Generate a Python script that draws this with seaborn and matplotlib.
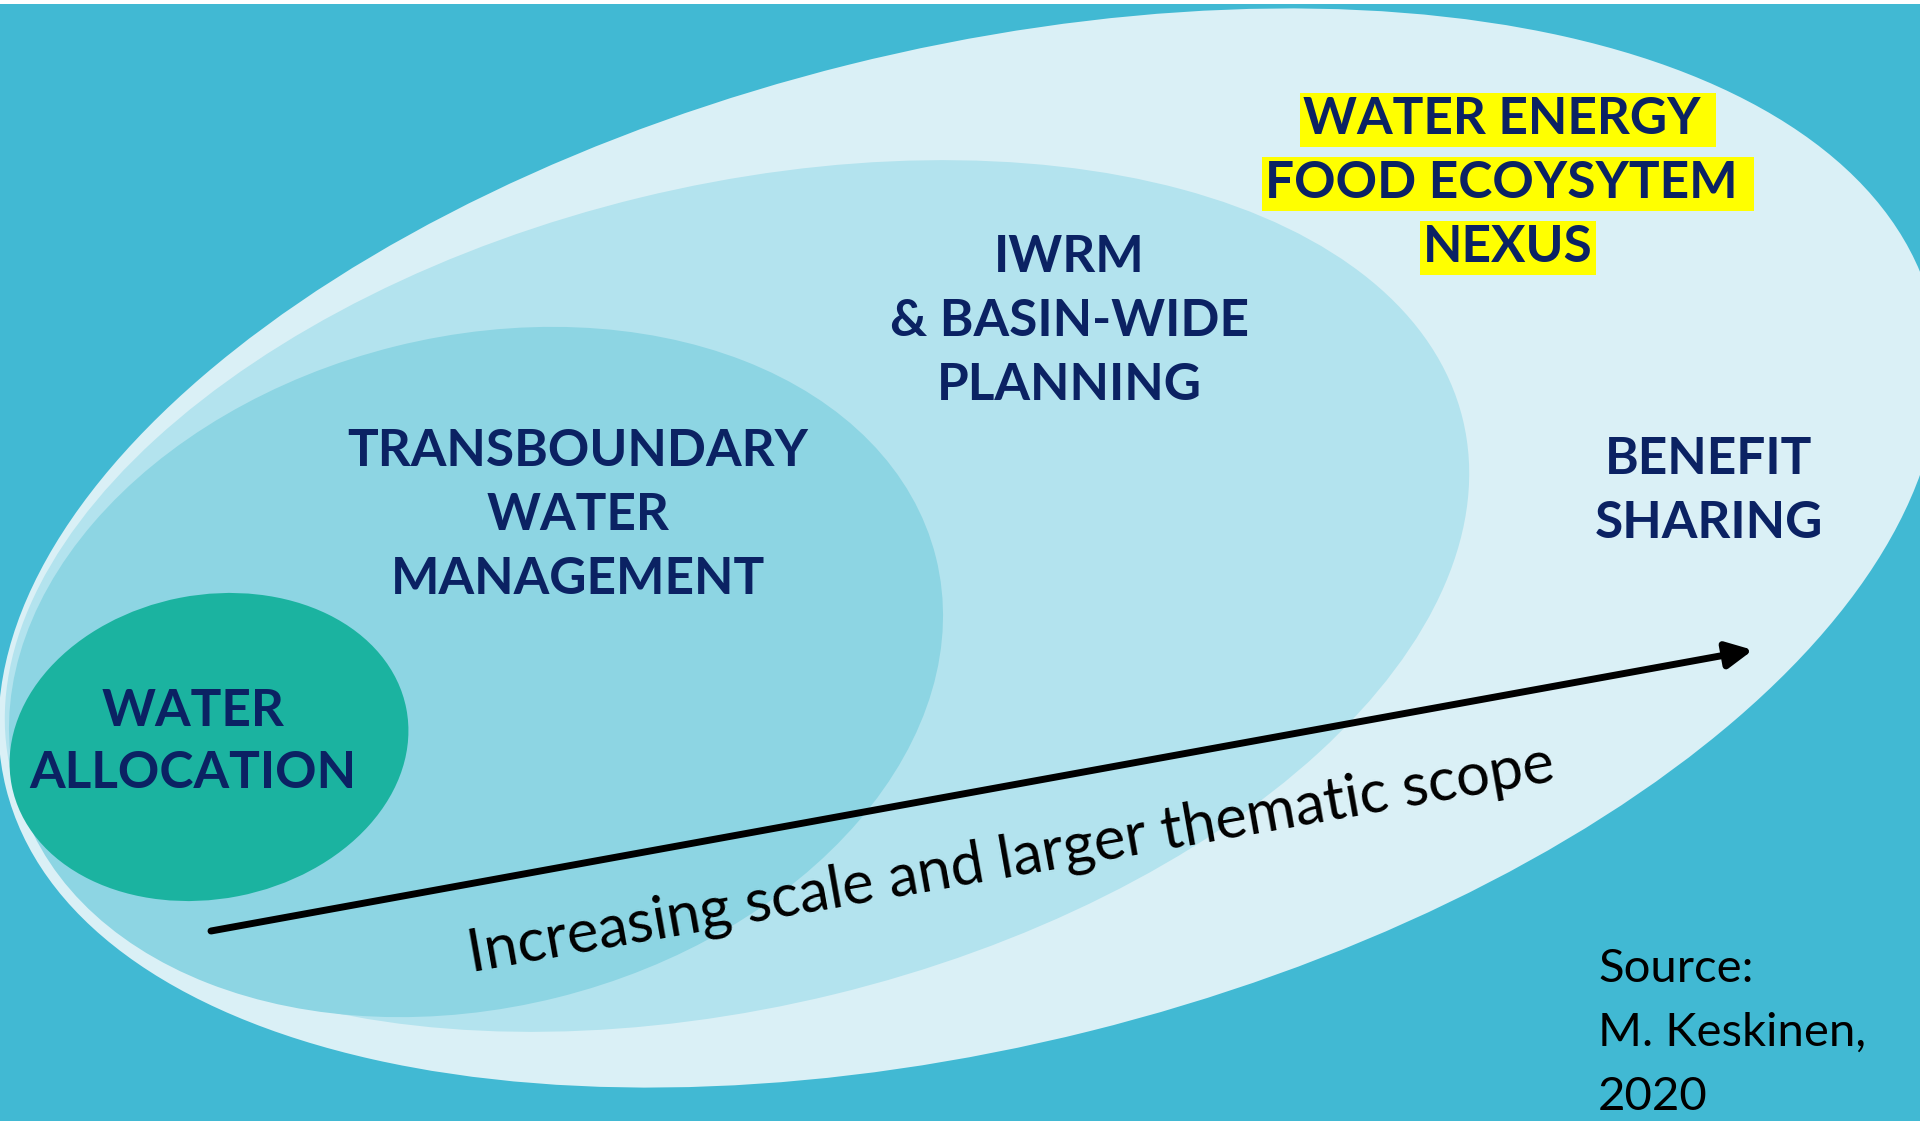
import matplotlib.pyplot as plt
import seaborn as sns
from matplotlib.patches import Ellipse

# Canvas in pixels (y up)
W, H = 1920, 1121

# Nested scope ellipses, drawn from outermost to innermost
scope_names = ["Benefit sharing", "IWRM", "Transboundary", "Water allocation"]
scope_cx = [969, 737, 476, 209]
scope_cy = [573, 525, 449, 374]
scope_w = [1985, 1494, 948, 402]
scope_h = [996, 820, 671, 304]
scope_angle = [14, 13.7, 14, 11]
scope_colors = ["#DAF0F6", "#B3E3EE", "#8DD5E3", "#1BB3A0"]

# Labels per ellipse
allocation_lines = ["WATER", "ALLOCATION"]
transboundary_lines = ["TRANSBOUNDARY", "WATER", "MANAGEMENT"]
iwrm_lines = ["IWRM", "& BASIN-WIDE", "PLANNING"]
nexus_lines = ["WATER ENERGY ", "FOOD ECOYSYTEM ", "NEXUS"]
benefit_lines = ["BENEFIT", "SHARING"]
source_lines = ["Source:", "M. Keskinen,", "2020"]
arrow_label = "Increasing scale and larger thematic scope"

NAVY = "#0B2263"
BG = "#41B9D3"

sns.set_theme(style="white")
plt.rcParams["font.family"] = ["Lato", "DejaVu Sans"]

fig = plt.figure(figsize=(19.2, 11.21), dpi=100, facecolor="white")
ax = fig.add_axes([0, 0, 1, 1 - 4 / H])
ax.set_xlim(0, W)
ax.set_ylim(0, H - 4)
ax.set_facecolor(BG)
ax.set_axis_off()
ax.add_patch(plt.Rectangle((0, 0), W, H, color=BG, zorder=0))

for cx, cy, w, h, a, c in zip(scope_cx, scope_cy, scope_w, scope_h, scope_angle, scope_colors):
    ax.add_patch(Ellipse((cx, cy), w, h, angle=a, facecolor=c, edgecolor="none", zorder=1))


def block(lines, x, y_top, step=64, ha="center", **kw):
    for i, line in enumerate(lines):
        ax.text(x, y_top - i * step, line, ha=ha, va="center", zorder=5, **kw)


bold = dict(fontsize=37, fontweight="bold", color=NAVY)
block(allocation_lines, 193, 410, step=63, **bold)
block(transboundary_lines, 578, 669, **bold)
block(iwrm_lines, 1069, 864, **bold)
block(benefit_lines, 1709, 662, **bold)
block(nexus_lines, 1508, 1001, step=64,
      bbox=dict(boxstyle="square,pad=0.06", facecolor="#FFFF00", edgecolor="none"), **bold)
block(source_lines, 1598, 152, ha="left", fontsize=34, color="black")

# Arrow
ax.annotate("", xy=(1753, 471), xytext=(211, 190),
            arrowprops=dict(arrowstyle="-|>,head_length=1.3,head_width=0.65",
                            color="black", lw=5, shrinkA=0, shrinkB=0), zorder=4)
ax.text(1014, 245, arrow_label, rotation=10, rotation_mode="anchor",
        ha="center", va="baseline", fontsize=43, color="black", zorder=5)

fig.savefig("out.png", dpi=100, facecolor="white")
